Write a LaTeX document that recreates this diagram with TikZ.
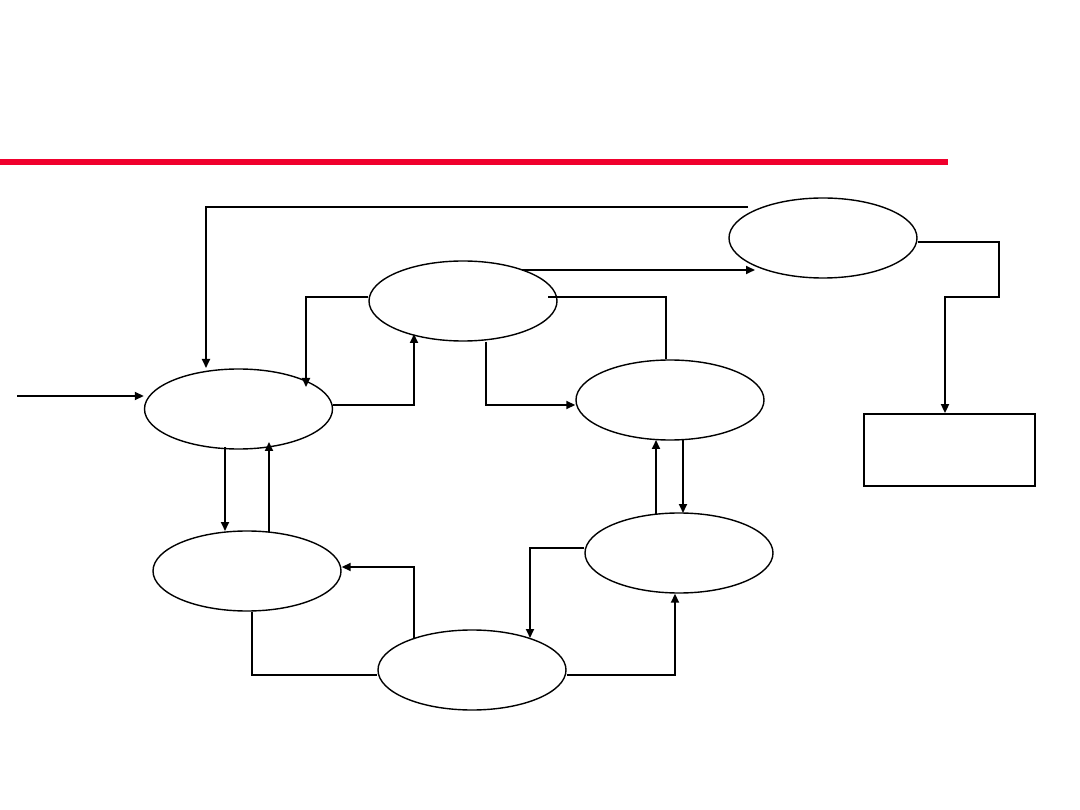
\documentclass[tikz,border=0pt]{standalone}
\usetikzlibrary{shapes.geometric,arrows.meta,calc}
\definecolor{barred}{RGB}{240,0,45}
\begin{document}
\begin{tikzpicture}[x=1pt,y=-1pt,
  oval/.style={draw,ellipse,line width=1.4pt,minimum width=188pt,minimum height=80pt,inner sep=0pt},
  box/.style={draw,rectangle,line width=1.8pt,minimum width=171pt,minimum height=72pt,inner sep=0pt},
  conn/.style={line width=1.8pt},
  arr/.style={conn,-{Triangle[length=9pt,width=8pt]}}]
\useasboundingbox (0,0) rectangle (1080,810);
\fill[barred] (0,159) rectangle (948,165);
\node[oval] (A) at (238.5,409) {};
\node[oval] (B) at (463,301) {};
\node[oval] (C) at (823,238) {};
\node[oval] (D) at (670,400) {};
\node[oval] (E) at (679,553) {};
\node[oval] (F) at (472,670) {};
\node[oval] (G) at (247,571) {};
\node[box] (R) at (949.5,450) {};
\coordinate (in) at (17,396);
% input
\draw[arr] (in) -- (in -| A.west);
% top loop C -> A
\draw[arr] ($(C.center)+(-75,-31)$) -| ($(A.center)+(-32.5,-41)$);
% B -> C
\draw[arr] ($(B.center)+(59,-31)$) -- ($(C.center)+(-68,32)$);
% B - D plain
\draw[conn] ($(B.center)+(85,-4)$) -| ($(D.north)+(-4,0)$);
% B -> D
\draw[arr] ($(B.south)+(23,0)$) |- ($(D.west)+(0,5)$);
% A -> B
\draw[arr] ($(A.east)+(0,-4)$) -| ($(B.center)+(-49,33)$);
% B -> A
\draw[arr] ($(B.west)+(0,-4)$) -| ($(A.center)+(67.5,-22)$);
% A -> G
\draw[arr] ($(A.center)+(-13.5,38)$) -- ($(G.center)+(-22,-40)$);
% G -> A
\draw[arr] ($(G.center)+(22,-39)$) -- ($(A.center)+(30.5,33)$);
% C -> R
\draw[arr] ($(C.east)+(0,4)$) -- ++(81,0) -- ++(0,55) -| ($(R.north)+(-4.5,0)$);
% D -> E
\draw[arr] ($(D.center)+(13,40)$) -- ($(E.center)+(4,-40)$);
% E -> D
\draw[arr] ($(E.center)+(-23,-39)$) -- ($(D.center)+(-14,40)$);
% E -> F
\draw[arr] ($(E.west)+(0,-5)$) -| ($(F.center)+(58,-32)$);
% F -> G
\draw[arr] ($(F.center)+(-58,-31)$) |- ($(G.east)+(0,-4)$);
% G - F plain
\draw[conn] ($(G.south)+(5,0)$) |- ($(F.west)+(0,5)$);
% F -> E
\draw[arr] ($(F.east)+(0,5)$) -| ($(E.south)+(-4,0)$);
\end{tikzpicture}
\end{document}
